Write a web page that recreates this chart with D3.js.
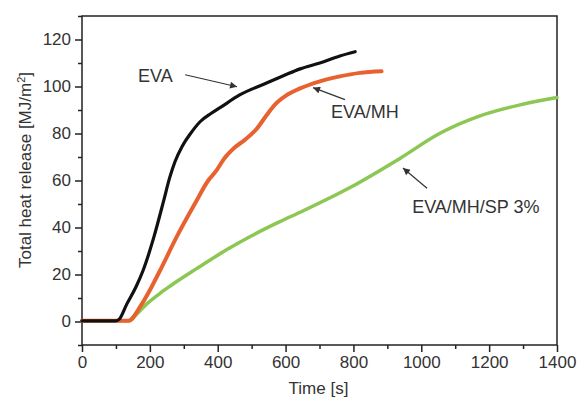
<!DOCTYPE html>
<html>
<head>
<meta charset="utf-8">
<script src="https://cdn.jsdelivr.net/npm/d3@7"></script>
<style>
  body { margin: 0; background: #fff; }
  text { font-family: "Liberation Sans", Arial, sans-serif; fill: #333; }
</style>
</head>
<body>
<div class="canvas"></div>
<script>
// data
const timeEva = [0, 50, 100, 110, 132, 160, 180, 212, 240, 258, 274, 295, 320, 348, 380, 407, 466, 544, 600, 643, 701, 760, 805];
const eva     = [0.3, 0.3, 0.3, 1, 7.4, 15, 21.7, 36, 51, 61, 68, 74.5, 80, 85, 88.5, 91, 96.5, 101.5, 105, 107.5, 110, 113, 114.8];

const timeMh = [0, 50, 100, 136, 176, 230, 279, 333, 372, 397, 416, 450, 480, 515, 545, 570, 600, 643, 701, 760, 819, 883];
const mh     = [0.3, 0.3, 0.3, 0.3, 7.4, 21.7, 36, 50.2, 60, 64.4, 68.7, 74, 77.3, 82, 88, 92.5, 96, 99.2, 102.2, 104.3, 105.8, 106.5];

const timeSp = [0, 50, 100, 141, 160, 191, 230, 259, 338, 426, 500, 583, 643, 790, 937, 1055, 1173, 1291, 1400];
const sp     = [0.3, 0.3, 0.3, 0.3, 3, 7.5, 12, 15, 22.5, 30.5, 36.5, 42.5, 46.5, 57, 69.4, 80.1, 87.5, 92.2, 95.3];

const xTicks = [0, 200, 400, 600, 800, 1000, 1200, 1400];
const yTicks = [0, 20, 40, 60, 80, 100, 120];

const width = 579, height = 399;
const margin = {top: 16, right: 22, bottom: 54, left: 82};
const graphWidth = width - margin.left - margin.right;
const graphHeight = height - margin.top - margin.bottom;

const svg = d3.select('.canvas')
    .append('svg')
    .attr('width', width)
    .attr('height', height);

const graph = svg.append('g')
    .attr('transform', `translate(${margin.left},${margin.top})`);

const x = d3.scaleLinear().domain([0, 1400]).range([0, graphWidth]);
const y = d3.scaleLinear().domain([-10, 130]).range([graphHeight, 0]);

// minor ticks first, then the labelled ones
const xMinor = d3.axisBottom(x).tickValues(d3.range(100, 1400, 200)).tickSize(4).tickFormat('');
const yMinor = d3.axisLeft(y).tickValues(d3.range(-10, 131, 20)).tickSize(4).tickFormat('');
const xAxis = d3.axisBottom(x).tickValues(xTicks).tickSize(7).tickPadding(4).tickFormat(d3.format('d'));
const yAxis = d3.axisLeft(y).tickValues(yTicks).tickSize(7).tickPadding(4).tickFormat(d3.format('d'));

const styleAxis = g => {
    g.select('.domain').remove();
    g.selectAll('line').attr('stroke', '#222').attr('stroke-width', 1.5);
    g.selectAll('text').attr('font-size', 17).attr('fill', '#333')
        .attr('font-family', '"Liberation Sans", Arial, sans-serif');
};

graph.append('g').attr('transform', `translate(0,${graphHeight})`).call(xMinor).call(styleAxis);
graph.append('g').attr('transform', `translate(0,${graphHeight})`).call(xAxis).call(styleAxis);
graph.append('g').call(yMinor).call(styleAxis);
graph.append('g').call(yAxis).call(styleAxis);

// frame
graph.append('rect')
    .attr('width', graphWidth).attr('height', graphHeight)
    .attr('fill', 'none').attr('stroke', '#222').attr('stroke-width', 1.5);

// curves
const line = d3.line()
    .x(d => x(d[0]))
    .y(d => y(d[1]))
    .curve(d3.curveMonotoneX);

const series = [
    {t: timeSp, v: sp, color: '#8cc653', w: 3.5},
    {t: timeMh, v: mh, color: '#e8622f', w: 4},
    {t: timeEva, v: eva, color: '#111', w: 3.2}
];

series.forEach(s => {
    graph.append('path')
        .datum(d3.zip(s.t, s.v))
        .attr('d', line)
        .attr('fill', 'none')
        .attr('stroke', s.color)
        .attr('stroke-width', s.w)
        .attr('stroke-linejoin', 'round')
        .attr('stroke-linecap', 'round');
});

// annotations with arrows
svg.append('defs').append('marker')
    .attr('id', 'head')
    .attr('viewBox', '0 0 10 10')
    .attr('refX', 10).attr('refY', 5)
    .attr('markerWidth', 9).attr('markerHeight', 7)
    .attr('markerUnits', 'userSpaceOnUse')
    .attr('orient', 'auto')
    .append('path').attr('d', 'M0,0L10,5L0,10z').attr('fill', '#333');

const notes = [
    {label: 'EVA', tx: 165, ty: 102, a: [304, 105, 457, 99.9]},
    {label: 'EVA/MH', tx: 734, ty: 86.6, a: [775, 94.4, 681, 99.5]},
    {label: 'EVA/MH/SP 3%', tx: 973, ty: 46, a: [1017, 56.7, 946, 65.3]}
];

notes.forEach(n => {
    graph.append('text')
        .attr('x', x(n.tx)).attr('y', y(n.ty))
        .attr('font-size', 18)
        .text(n.label);
    graph.append('line')
        .attr('x1', x(n.a[0])).attr('y1', y(n.a[1]))
        .attr('x2', x(n.a[2])).attr('y2', y(n.a[3]))
        .attr('stroke', '#333').attr('stroke-width', 1.2)
        .attr('marker-end', 'url(#head)');
});

// axis titles
svg.append('text')
    .attr('x', margin.left + graphWidth / 2 - 1)
    .attr('y', 394)
    .attr('text-anchor', 'middle')
    .attr('font-size', 17)
    .text('Time [s]');

const yTitle = svg.append('text')
    .attr('transform', `translate(31,${margin.top + 154}) rotate(-90)`)
    .attr('text-anchor', 'middle')
    .attr('font-size', 17)
    .text('Total heat release [MJ/m');
yTitle.append('tspan').attr('dy', -6).attr('font-size', 11).text('2');
yTitle.append('tspan').attr('dy', 6).text(']');
</script>
</body>
</html>
